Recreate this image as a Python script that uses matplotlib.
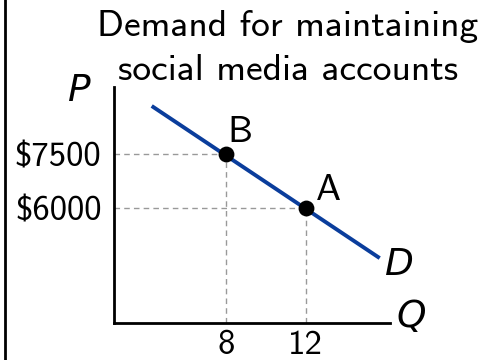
import matplotlib
matplotlib.use("Agg")
from matplotlib import pyplot as plt
from matplotlib.lines import Line2D

# demand curve and the two marked points
demand_q = [4.3, 15.7]
demand_p = [8850, 4600]
point_names = ["B", "A"]
point_q = [8, 12]
point_p = [7500, 6000]
price_labels = ["$7500", "$6000"]
qty_labels = ["8", "12"]

title_lines = ["Demand for maintaining", "social media accounts"]

font = "cmss10"
blue = "#0a3d9c"

fig = plt.figure(figsize=(4.82, 3.6), dpi=100)
ax = fig.add_axes([114 / 482, 1 - 322.7 / 360, (390 - 114) / 482, (322.7 - 87) / 360])

ax.set_xlim(2.415, 16.215)
ax.set_ylim(2796, 9380)

ax.plot(demand_q, demand_p, color=blue, lw=2.8, solid_capstyle="butt", zorder=3)

for q, p in zip(point_q, point_p):
    ax.plot([ax.get_xlim()[0], q], [p, p], ls=(0, (4, 3)), color="#999999", lw=1, zorder=1)
    ax.plot([q, q], [ax.get_ylim()[0], p], ls=(0, (4, 3)), color="#999999", lw=1, zorder=1)

ax.scatter(point_q, point_p, s=130, color="black", zorder=4, linewidths=0)

ax.text(8.1, 7840, point_names[0], family=font, fontsize=27, ha="left", va="baseline")
ax.text(12.5, 6220, point_names[1], family=font, fontsize=27, ha="left", va="baseline")
ax.text(15.95, 4130, "D", family="DejaVu Sans", style="italic", fontsize=27, ha="left", va="baseline")

ax.set_xticks(point_q)
ax.set_xticklabels(qty_labels, family=font, fontsize=25)
ax.set_yticks(point_p)
ax.set_yticklabels(price_labels, family=font, fontsize=25)
ax.tick_params(axis="x", length=0, pad=5)
ax.tick_params(axis="y", length=0, pad=9)

for side in ["top", "right"]:
    ax.spines[side].set_visible(False)
for side in ["left", "bottom"]:
    ax.spines[side].set_linewidth(2)

fig.text(396 / 482, 1 - 327 / 360, "Q", family="DejaVu Sans", style="italic", fontsize=27, ha="left", va="baseline")
fig.text(68 / 482, 1 - 101 / 360, "P", family="DejaVu Sans", style="italic", fontsize=27, ha="left", va="baseline")

fig.text(288 / 482, 1 - 36 / 360, title_lines[0], family=font, fontsize=27, ha="center", va="baseline")
fig.text(288 / 482, 1 - 80 / 360, title_lines[1], family=font, fontsize=27, ha="center", va="baseline")

# border line on the left
fig.add_artist(Line2D([5 / 482, 5 / 482], [0, 1], color="black", lw=2, transform=fig.transFigure))

fig.savefig("out.png", dpi=100)
